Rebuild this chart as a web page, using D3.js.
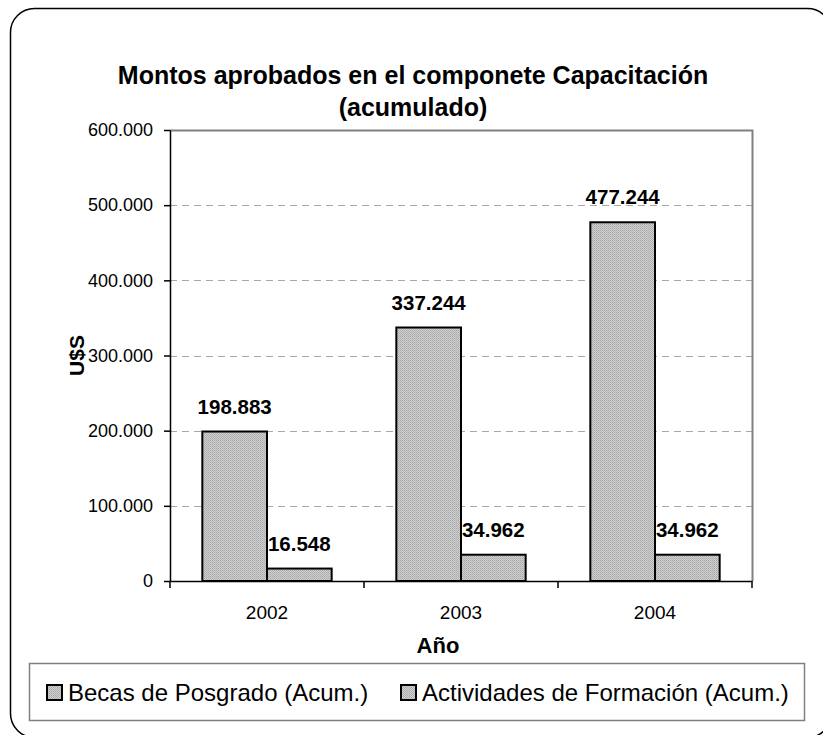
<!DOCTYPE html>
<html>
<head>
<meta charset="utf-8">
<script src="https://cdn.jsdelivr.net/npm/d3@7"></script>
<style>
  body { margin: 0; background: #fff; }
  text { font-family: "Liberation Sans", Arial, sans-serif; }
</style>
</head>
<body>
<div id="chart"></div>
<script>
// data
var years = ["2002", "2003", "2004"];
var seriesNames = ["Becas de Posgrado (Acum.)", "Actividades de Formación (Acum.)"];
var becas = [198883, 337244, 477244];
var actividades = [16548, 34962, 34962];
var yTicks = [0, 100000, 200000, 300000, 400000, 500000, 600000];

var W = 823, H = 735;
var plot = {left: 170, top: 130, right: 752, bottom: 581};

var svg = d3.select("#chart").append("svg")
  .attr("width", W).attr("height", H);

// dotted fill pattern for the bars
var defs = svg.append("defs");
var pat = defs.append("pattern")
  .attr("id", "dots")
  .attr("width", 2).attr("height", 2)
  .attr("patternUnits", "userSpaceOnUse");
pat.append("rect").attr("width", 2).attr("height", 2).attr("fill", "#cfcfcf");
pat.append("rect").attr("x", 0).attr("y", 0).attr("width", 1).attr("height", 1).attr("fill", "#a8a8a8");
pat.append("rect").attr("x", 1).attr("y", 1).attr("width", 1).attr("height", 1).attr("fill", "#b4b4b4");

// outer rounded border (runs off the page on right/bottom)
svg.append("rect")
  .attr("x", 10.5).attr("y", 8.5)
  .attr("width", 821).attr("height", 729)
  .attr("rx", 24).attr("ry", 24)
  .attr("fill", "none").attr("stroke", "#000").attr("stroke-width", 1.5);

var loc = d3.formatLocale({decimal: ",", thousands: ".", grouping: [3], currency: ["", ""]});
var fmt = loc.format(",d");

var x = d3.scaleBand().domain(years).range([plot.left, plot.right]).paddingInner(0).paddingOuter(0);
var xSub = d3.scaleBand().domain([0, 1]).range([0, x.bandwidth()]).paddingOuter(0.5).paddingInner(0);
var y = d3.scaleLinear().domain([0, 600000]).range([plot.bottom, plot.top]);

// gridlines
svg.append("g").selectAll("line")
  .data(yTicks.filter(function(d){ return d > 0 && d < 600000; }))
  .enter().append("line")
  .attr("x1", plot.left).attr("x2", plot.right)
  .attr("y1", function(d){ return Math.round(y(d)) + 0.5; })
  .attr("y2", function(d){ return Math.round(y(d)) + 0.5; })
  .attr("stroke", "#a8a8a8").attr("stroke-width", 1)
  .attr("stroke-dasharray", "7,5");

// frame top and right
svg.append("path")
  .attr("d", "M" + plot.left + "," + (plot.top + 0.5) + "H" + (plot.right + 0.5) + "V" + plot.bottom)
  .attr("fill", "none").attr("stroke", "#808080").attr("stroke-width", 2);

// bars
var rows = years.map(function(yr, i){ return {year: yr, vals: [becas[i], actividades[i]]}; });
var groups = svg.append("g").selectAll("g")
  .data(rows).enter().append("g")
  .attr("transform", function(d){ return "translate(" + x(d.year) + ",0)"; });

groups.selectAll("rect")
  .data(function(d){ return d.vals.map(function(v, k){ return {k: k, v: v}; }); })
  .enter().append("rect")
  .attr("x", function(d){ return xSub(d.k); })
  .attr("y", function(d){ return y(d.v); })
  .attr("width", xSub.bandwidth())
  .attr("height", function(d){ return plot.bottom - y(d.v); })
  .attr("fill", "url(#dots)")
  .attr("stroke", "#000").attr("stroke-width", 2);

groups.selectAll("text.lbl")
  .data(function(d){ return d.vals.map(function(v, k){ return {k: k, v: v}; }); })
  .enter().append("text")
  .attr("class", "lbl")
  .attr("x", function(d){ return xSub(d.k) + xSub.bandwidth() / 2; })
  .attr("y", function(d){ return y(d.v) - 18; })
  .attr("text-anchor", "middle")
  .attr("font-size", 20.5).attr("font-weight", "bold")
  .text(function(d){ return fmt(d.v); });

// y axis
var yAxis = svg.append("g")
  .attr("transform", "translate(" + plot.left + ",0)")
  .call(d3.axisLeft(y).tickValues(yTicks).tickSize(6).tickSizeOuter(0)
    .tickFormat(function(d){ return fmt(d); }));
yAxis.select(".domain").attr("stroke", "#000").attr("stroke-width", 1.5);
yAxis.selectAll(".tick line").attr("stroke", "#000").attr("stroke-width", 1.5);
yAxis.selectAll(".tick text")
  .attr("font-family", "Liberation Sans, Arial, sans-serif")
  .attr("font-size", 18).attr("fill", "#000").attr("x", -17);

// x axis
var xAxis = svg.append("g")
  .attr("transform", "translate(0," + plot.bottom + ")")
  .call(d3.axisBottom(x).tickSize(0).tickSizeOuter(0));
xAxis.select(".domain").attr("stroke", "#000").attr("stroke-width", 1.5);
xAxis.selectAll(".tick text")
  .attr("font-family", "Liberation Sans, Arial, sans-serif")
  .attr("font-size", 19).attr("fill", "#000")
  .attr("y", 38).attr("dy", 0);
// tick marks between categories
xAxis.selectAll("line.sep")
  .data(years.concat(["end"]))
  .enter().append("line")
  .attr("class", "sep")
  .attr("x1", function(d, i){ return i < years.length ? x(d) : plot.right; })
  .attr("x2", function(d, i){ return i < years.length ? x(d) : plot.right; })
  .attr("y1", 0).attr("y2", 7)
  .attr("stroke", "#000").attr("stroke-width", 1.5);

// axis titles
svg.append("text")
  .attr("x", 438).attr("y", 653)
  .attr("text-anchor", "middle")
  .attr("font-size", 22).attr("font-weight", "bold")
  .text("Año");

svg.append("text")
  .attr("transform", "translate(84," + ((plot.top + plot.bottom) / 2) + ") rotate(-90)")
  .attr("text-anchor", "middle")
  .attr("font-size", 21).attr("font-weight", "bold")
  .text("U$S");

// title
svg.append("text")
  .attr("x", 413).attr("y", 84)
  .attr("text-anchor", "middle")
  .attr("font-size", 25).attr("font-weight", "bold")
  .text("Montos aprobados en el componete Capacitación");
svg.append("text")
  .attr("x", 413).attr("y", 116)
  .attr("text-anchor", "middle")
  .attr("font-size", 25).attr("font-weight", "bold")
  .text("(acumulado)");

// legend
svg.append("rect")
  .attr("x", 29.5).attr("y", 663.5).attr("width", 775).attr("height", 57)
  .attr("fill", "none").attr("stroke", "#808080").attr("stroke-width", 1.5);

var legX = [47, 401];
var leg = svg.append("g").selectAll("g")
  .data(seriesNames).enter().append("g")
  .attr("transform", function(d, i){ return "translate(" + legX[i] + ",685)"; });
leg.append("rect")
  .attr("width", 15).attr("height", 15)
  .attr("fill", "url(#dots)").attr("stroke", "#000").attr("stroke-width", 2);
leg.append("text")
  .attr("x", 21).attr("y", 16)
  .attr("font-size", 24)
  .text(function(d){ return d; });
</script>
</body>
</html>
